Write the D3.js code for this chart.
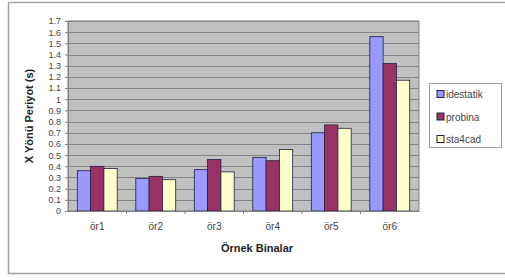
<!DOCTYPE html>
<html>
<head>
	<style>
		body { margin: 0; background: white; }
		svg text { font-family: "Liberation Sans", Arial, sans-serif; }
	</style>
	<script src="https://d3js.org/d3.v7.min.js"></script>
</head>
<body>
	<script>
		// Data
		var categories = ["ör1", "ör2", "ör3", "ör4", "ör5", "ör6"];
		var seriesNames = ["idestatik", "probina", "sta4cad"];
		var idestatik = [0.36, 0.29, 0.37, 0.48, 0.70, 1.56];
		var probina   = [0.40, 0.31, 0.46, 0.45, 0.77, 1.32];
		var sta4cad   = [0.38, 0.28, 0.35, 0.55, 0.74, 1.17];
		var yTicks = [0, 0.1, 0.2, 0.3, 0.4, 0.5, 0.6, 0.7, 0.8, 0.9, 1, 1.1, 1.2, 1.3, 1.4, 1.5, 1.6, 1.7];
		var colors = ["#9999ff", "#993366", "#ffffcc"];

		var series = [idestatik, probina, sta4cad];

		var width = 505, height = 280;
		var plot = { left: 68, top: 21, right: 419, bottom: 211 };

		var svg = d3.select("body").append("svg")
			.attr("width", width)
			.attr("height", height);

		// outer chart border
		svg.append("rect")
			.attr("x", 8.5).attr("y", 2.5)
			.attr("width", 500).attr("height", 271)
			.attr("fill", "white")
			.attr("stroke", "#a0a0a0")
			.attr("stroke-width", 1.5);

		var x = d3.scaleBand()
			.domain(categories)
			.range([plot.left, plot.right]);

		var xInner = d3.scaleBand()
			.domain(d3.range(series.length))
			.range([0, x.bandwidth()])
			.paddingOuter(0.7);

		var y = d3.scaleLinear()
			.domain([0, 1.7])
			.range([plot.bottom, plot.top]);

		// plot area
		svg.append("rect")
			.attr("x", plot.left).attr("y", plot.top)
			.attr("width", plot.right - plot.left)
			.attr("height", plot.bottom - plot.top)
			.attr("fill", "#c0c0c0")
			.attr("stroke", "#808080");

		// gridlines
		svg.append("g").selectAll("line")
			.data(yTicks.slice(1))
			.enter().append("line")
			.attr("x1", plot.left).attr("x2", plot.right)
			.attr("y1", function(d) { return Math.round(y(d)) + 0.5; })
			.attr("y2", function(d) { return Math.round(y(d)) + 0.5; })
			.attr("stroke", "#858585");

		// bars
		series.forEach(function(vals, s) {
			svg.append("g").selectAll("rect")
				.data(vals)
				.enter().append("rect")
				.attr("x", function(d, i) { return x(categories[i]) + xInner(s); })
				.attr("y", function(d) { return y(d); })
				.attr("width", xInner.bandwidth())
				.attr("height", function(d) { return plot.bottom - y(d); })
				.attr("fill", colors[s])
				.attr("stroke", "#202040")
				.attr("stroke-width", 0.8);
		});

		// y axis
		var yAxis = svg.append("g")
			.attr("transform", "translate(" + plot.left + ",0)")
			.call(d3.axisLeft(y).tickValues(yTicks).tickSize(3).tickFormat(function(d) { return String(d); }));
		yAxis.select(".domain").attr("stroke", "#808080");
		yAxis.selectAll(".tick line").attr("stroke", "#808080");
		yAxis.selectAll("text").attr("font-size", 9).attr("fill", "#444").attr("dx", -1);

		// x axis
		var xAxis = svg.append("g")
			.attr("transform", "translate(0," + plot.bottom + ")")
			.call(d3.axisBottom(x).tickSize(0).tickPadding(12));
		xAxis.select(".domain").attr("stroke", "#808080");
		xAxis.selectAll("text").attr("font-size", 10).attr("fill", "#444");
		xAxis.selectAll(".sep")
			.data(categories.slice(1))
			.enter().append("line")
			.attr("x1", function(d) { return x(d); })
			.attr("x2", function(d) { return x(d); })
			.attr("y1", 0).attr("y2", 3)
			.attr("stroke", "#808080");

		// axis titles
		svg.append("text")
			.attr("x", 257).attr("y", 252)
			.attr("text-anchor", "middle")
			.attr("font-size", 11).attr("font-weight", "bold")
			.attr("fill", "#222")
			.text("Örnek Binalar");

		svg.append("text")
			.attr("transform", "translate(33,116) rotate(-90)")
			.attr("text-anchor", "middle")
			.attr("font-size", 11).attr("font-weight", "bold")
			.attr("fill", "#222")
			.text("X Yönü Periyot (s)");

		// legend
		var legend = svg.append("g");
		legend.append("rect")
			.attr("x", 429.5).attr("y", 83.5)
			.attr("width", 72).attr("height", 64)
			.attr("fill", "white")
			.attr("stroke", "#a0a0a0");
		var items = legend.selectAll(".item")
			.data(seriesNames)
			.enter().append("g")
			.attr("transform", function(d, i) { return "translate(437," + (94 + i * 22.5) + ")"; });
		items.append("rect")
			.attr("x", 0).attr("y", -3.5)
			.attr("width", 7).attr("height", 7)
			.attr("fill", function(d, i) { return colors[i]; })
			.attr("stroke", "#202040");
		items.append("text")
			.attr("x", 9).attr("y", 4)
			.attr("font-size", 10).attr("fill", "#444")
			.text(function(d) { return d; });
	</script>
</body>
</html>
